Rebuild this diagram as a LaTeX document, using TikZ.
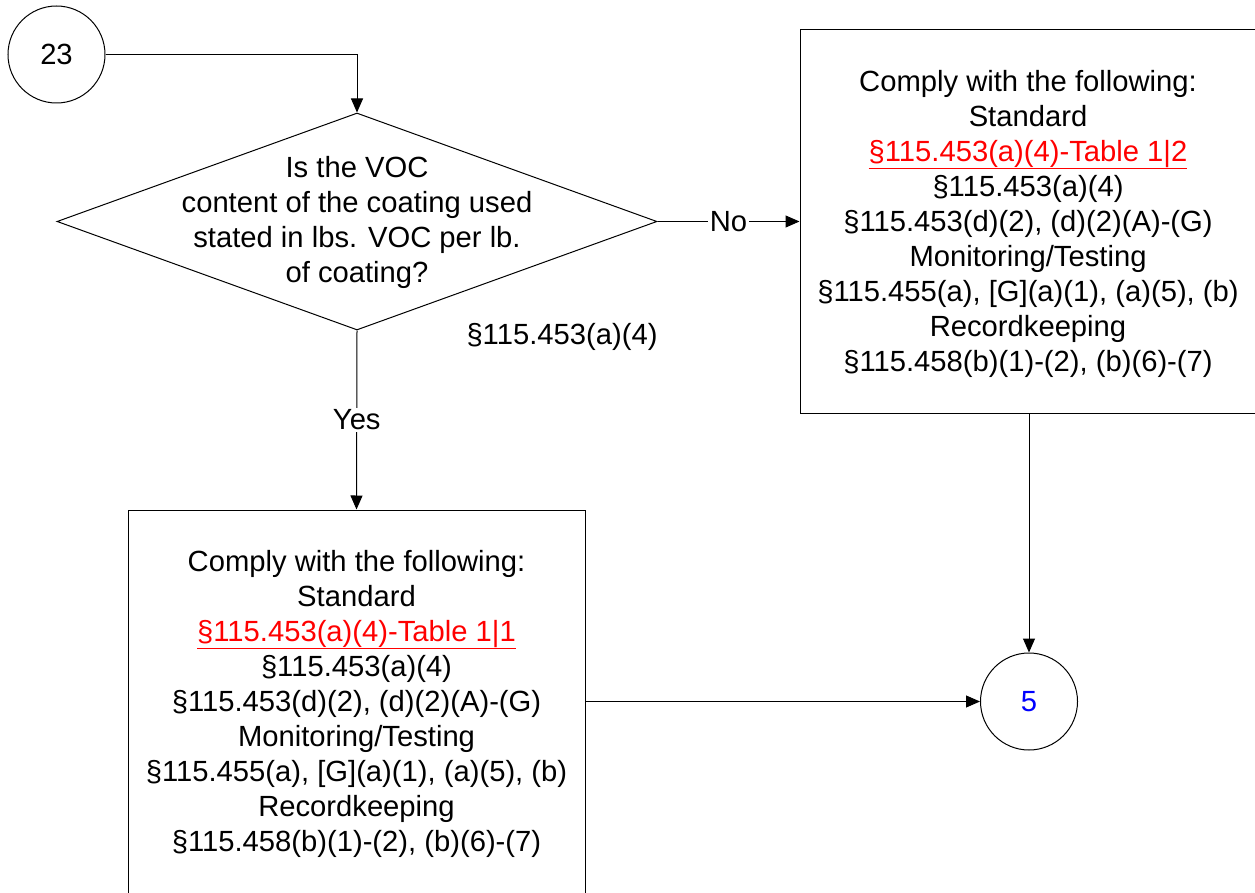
\documentclass[tikz,border=0pt]{standalone}
\usepackage{fontspec}
\setmainfont{Liberation Sans}
\usetikzlibrary{shapes.geometric,arrows.meta}
\definecolor{linkred}{RGB}{255,0,0}
\definecolor{numblue}{RGB}{0,0,255}
\begin{document}
\begin{tikzpicture}[x=1pt,y=-1pt,
  every node/.style={font=\fontsize{29.2}{35}\selectfont},
  conn/.style={draw=black,line width=1pt,-{Triangle[length=14pt,width=12pt]}},
  boxnode/.style={draw=black,line width=1pt,rectangle,inner sep=0pt},
  boxtext/.style={align=center,inner sep=0pt},
  ring/.style={draw=black,line width=1pt,circle,minimum size=97pt,inner sep=0pt},
  lbl/.style={fill=white,inner sep=2pt}
]
\useasboundingbox (0,0) rectangle (1255,893);
\fill[white] (0,0) rectangle (1255,893);

% circles
\node[ring] (c23) at (56.5,54.5) {23};
\node[ring,text=numblue] (c5) at (1029,701.5) {5};

% decision diamond
\node[diamond,draw=black,line width=1pt,inner sep=0pt,minimum width=600pt,minimum height=217pt] (dia) at (357,221.5) {};
\node[boxtext] (diatext) at (357,222) {Is the VOC\\content of the coating used\\stated in lbs. VOC per lb.\\of coating?};
\node[inner sep=0pt] (ref) at (562,337) {\S115.453(a)(4)};

% right box
\node[boxnode,minimum width=456pt,minimum height=383pt] (rbox) at (1028,221.5) {};
\node[boxtext] (rtext) at (1028,223.5)
  {Comply with the following:\\Standard\\{\color{linkred}\underline{\S115.453(a)(4)-Table 1|2}}\\\S115.453(a)(4)\\\S115.453(d)(2), (d)(2)(A)-(G)\\Monitoring/Testing\\\S115.455(a), [G](a)(1), (a)(5), (b)\\Recordkeeping\\\S115.458(b)(1)-(2), (b)(6)-(7)};

% bottom box
\node[boxnode,minimum width=457pt,minimum height=383pt] (bbox) at (356.5,701.5) {};
\node[boxtext] (btext) at (356.5,703.5)
  {Comply with the following:\\Standard\\{\color{linkred}\underline{\S115.453(a)(4)-Table 1|1}}\\\S115.453(a)(4)\\\S115.453(d)(2), (d)(2)(A)-(G)\\Monitoring/Testing\\\S115.455(a), [G](a)(1), (a)(5), (b)\\Recordkeeping\\\S115.458(b)(1)-(2), (b)(6)-(7)};

% connectors
\draw[conn] (c23.east) -| (dia.north);
\draw[conn] (dia.east) -- node[lbl] {No} (rbox.west);
\draw[conn] (dia.south) -- node[lbl] {Yes} (bbox.north);
\draw[conn] (rbox.south -| c5.north) -- (c5.north);
\draw[conn] (bbox.east) -- (c5.west);
\end{tikzpicture}
\end{document}
